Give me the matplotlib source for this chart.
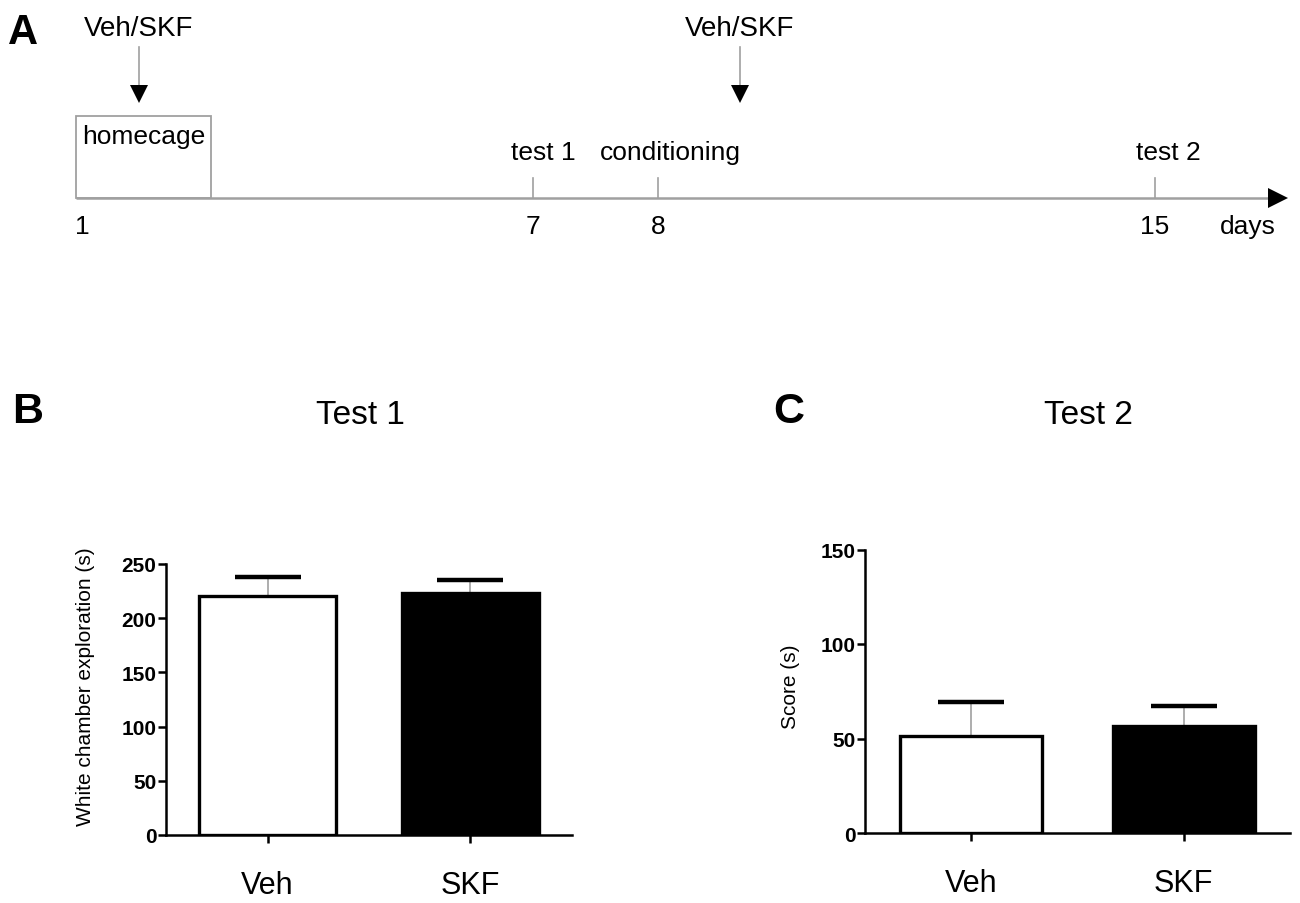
import matplotlib
matplotlib.use("Agg")
import matplotlib.pyplot as plt
from matplotlib.patches import Rectangle

plt.rcParams['font.family'] = ['Liberation Sans', 'DejaVu Sans']

# timeline (panel A)
days = [1, 7, 8, 15]
day_events = ['', 'test 1', 'conditioning', 'test 2']
injection_days = [1, 8]
injection_label = 'Veh/SKF'
home_label = 'homecage'

# bar data (panels B and C)
groups = ['Veh', 'SKF']
test1_mean = [220.5, 223]
test1_sem = [17.5, 12]
test2_mean = [51.5, 56.5]
test2_sem = [18, 10.5]

# layout of the schematic, in pixels
day_x = {1: 80, 7: 533, 8: 658, 15: 1155}
event_x = {7: 543, 8: 670, 15: 1168}
inj_x = {1: 139, 8: 740}
line_y = 199
grey = '#a0a0a0'
fs_a = 19

fig = plt.figure(figsize=(13, 9.04), dpi=100)

# ---- panel A: overlay axes in pixel units
ax0 = fig.add_axes([0, 0, 1, 1])
ax0.set_xlim(0, 1300)
ax0.set_ylim(904, 0)
ax0.axis('off')

ax0.plot([76, 1276], [line_y, line_y], color=grey, lw=1.8, solid_capstyle='butt')
ax0.plot([1278], [line_y], marker='>', color='black', markersize=14, markeredgewidth=0)
ax0.add_patch(Rectangle((76, 117), 135, line_y - 117, fill=False, edgecolor=grey, lw=1.3))
ax0.text(144, 137, home_label, ha='center', va='center', fontsize=fs_a)

for d, ev in zip(days, day_events):
    x = day_x[d]
    if ev:
        ax0.plot([x, x], [179, line_y], color=grey, lw=1.2)
        ax0.text(event_x[d], 153, ev, ha='center', va='center', fontsize=fs_a)
    ax0.text(x + (2 if d == 1 else 0), 227, str(d), ha='center', va='center', fontsize=fs_a)
ax0.text(1248, 227, 'days', ha='center', va='center', fontsize=fs_a)

for d in injection_days:
    x = inj_x[d]
    ax0.plot([x, x], [48, 90], color=grey, lw=1.2)
    ax0.plot([x], [95], marker='v', color='black', markersize=13, markeredgewidth=0)
    ax0.text(x, 29, injection_label, ha='center', va='center', fontsize=20)

fig.text(8 / 1300, 1 - 44 / 904, 'A', fontsize=30, fontweight='bold', ha='left', va='baseline')
fig.text(12 / 1300, 1 - 423 / 904, 'B', fontsize=31, fontweight='bold', ha='left', va='baseline')
fig.text(773 / 1300, 1 - 423 / 904, 'C', fontsize=31, fontweight='bold', ha='left', va='baseline')
fig.text(360 / 1300, 1 - 416 / 904, 'Test 1', fontsize=24, ha='center', va='center')
fig.text(1088 / 1300, 1 - 416 / 904, 'Test 2', fontsize=24, ha='center', va='center')


def bar_panel(rect, means, sems, ymax, step, ylabel, label_xy):
    ax = fig.add_axes(rect)
    x = list(range(len(groups)))
    err = ax.errorbar(x, means, yerr=[[0] * len(sems), sems], fmt='none',
                      ecolor=grey, elinewidth=1.2, capsize=24, capthick=3.2, zorder=1)
    caps = err[1]
    caps[0].set_visible(False)
    caps[1].set_markeredgecolor('black')
    caps[1].set_markerfacecolor('black')
    ax.bar(x, means, width=0.67, color=['white', 'black'], edgecolor='black',
           linewidth=2.4, zorder=2)
    ax.set_xlim(-0.5, 1.5)
    ax.set_ylim(0, ymax)
    ax.set_yticks(range(0, ymax + 1, step))
    ax.set_xticks(x)
    ax.set_xticklabels(groups, fontsize=22)
    for t in ax.get_yticklabels():
        t.set_fontweight('bold')
        t.set_fontsize(15)
    ax.tick_params(axis='y', length=6, width=1.8, pad=1)
    ax.tick_params(axis='x', length=6, width=1.8, pad=19)
    for s in ['top', 'right']:
        ax.spines[s].set_visible(False)
    for s in ['left', 'bottom']:
        ax.spines[s].set_linewidth(1.8)
    ax.set_ylabel(ylabel, fontsize=15)
    ax.yaxis.set_label_coords(*label_xy)
    ax.patch.set_alpha(0)
    return ax


bar_panel([166 / 1300, 1 - 836 / 904, 406 / 1300, 271 / 904], test1_mean, test1_sem,
          250, 50, 'White chamber exploration (s)', (-0.175, 0.55))
bar_panel([865 / 1300, 1 - 834 / 904, 425 / 1300, 283.5 / 904], test2_mean, test2_sem,
          150, 50, 'Score (s)', (-0.153, 0.52))

fig.savefig('out.png', dpi=100)
